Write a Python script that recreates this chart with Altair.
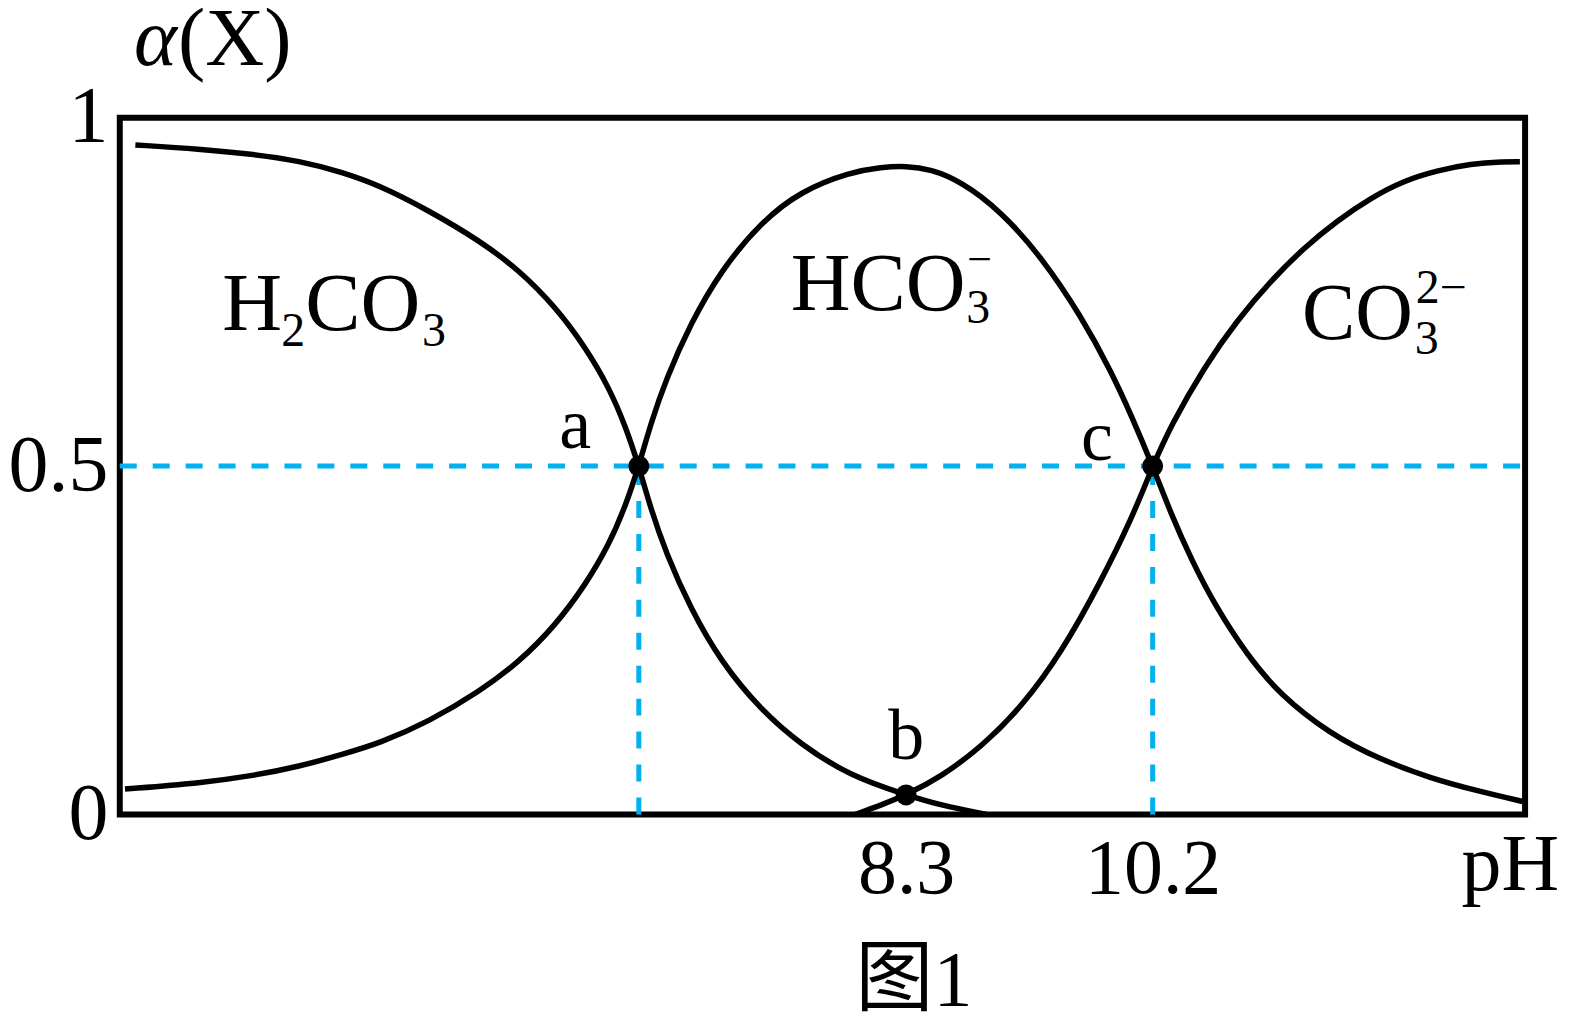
import altair as alt
import pandas as pd

SERIF = "Liberation Serif"

# ---- curve data (pH, fraction alpha) ----
ph_h2co3 = [2.36, 2.86, 3.25, 3.63, 3.95, 4.24, 4.62, 5.01, 5.32, 5.60, 5.83, 6.01, 6.14, 6.24,
            6.33, 6.45, 6.64, 6.87, 7.18, 7.49, 7.87, 8.30, 8.57, 8.92]
al_h2co3 = [0.961, 0.955, 0.948, 0.938, 0.922, 0.903, 0.867, 0.824, 0.781, 0.728, 0.670, 0.613,
            0.556, 0.500, 0.440, 0.375, 0.295, 0.220, 0.150, 0.100, 0.055, 0.028, 0.013, 0.0]

ph_hco3 = [2.28, 2.86, 3.25, 3.63, 3.95, 4.24, 4.62, 5.01, 5.32, 5.60, 5.83, 6.01, 6.14, 6.24,
           6.33, 6.45, 6.64, 6.87, 7.18, 7.49, 7.87, 8.11, 8.30, 8.49, 8.72, 9.03, 9.34, 9.65,
           9.88, 10.04, 10.20, 10.34, 10.50, 10.68, 10.93, 11.18, 11.57, 11.95, 12.34, 12.72, 13.05]
al_hco3 = [0.0365, 0.045, 0.055, 0.069, 0.086, 0.102, 0.133, 0.176, 0.219, 0.272, 0.330, 0.387,
           0.444, 0.500, 0.560, 0.625, 0.705, 0.780, 0.850, 0.895, 0.922, 0.929, 0.931, 0.926,
           0.909, 0.866, 0.801, 0.715, 0.636, 0.571, 0.500, 0.432, 0.365, 0.300, 0.228, 0.172,
           0.115, 0.079, 0.052, 0.033, 0.0186]

ph_co3 = [7.91, 8.11, 8.30, 8.57, 8.88, 9.19, 9.50, 9.80, 10.04, 10.20, 10.34, 10.60, 10.85,
          11.11, 11.37, 11.62, 11.88, 12.14, 12.39, 12.65, 12.91, 13.03]
al_co3 = [0.0, 0.0135, 0.028, 0.054, 0.097, 0.154, 0.233, 0.334, 0.425, 0.500, 0.558, 0.643,
          0.709, 0.766, 0.814, 0.852, 0.885, 0.910, 0.924, 0.934, 0.937, 0.937]

# marked points a, b, c
pt_names = ["a", "b", "c"]
pt_ph = [6.24, 8.30, 10.20]
pt_alpha = [0.5, 0.028, 0.5]

# axis ticks
x_ticks = [8.3, 10.2]
y_ticks = [0, 0.5, 1]
x_domain = [2.24, 13.07]
y_domain = [0, 1]

rows = []
for sp, xs, ys in [("H2CO3", ph_h2co3, al_h2co3), ("HCO3", ph_hco3, al_hco3), ("CO3", ph_co3, al_co3)]:
    for i, (x, y) in enumerate(zip(xs, ys)):
        rows.append({"species": sp, "pH": x, "alpha": y, "order": i})
curves = pd.DataFrame(rows)

xscale = alt.Scale(domain=x_domain, nice=False, zero=False)
yscale = alt.Scale(domain=y_domain, nice=False, zero=False)

x_axis = alt.Axis(values=x_ticks, title=None, ticks=False, domain=False, grid=False,
                  labelFont=SERIF, labelFontSize=78, labelColor="black", labelPadding=16,
                  labelFlush=False, format=".1f")
y_axis = alt.Axis(values=y_ticks, title=None, ticks=False, domain=False, grid=False,
                  labelFont=SERIF, labelFontSize=80, labelColor="black", labelPadding=12,
                  labelFlush=False, format="~g")


def X(field="pH"):
    return alt.X(f"{field}:Q", scale=xscale, axis=x_axis)


def Y(field="alpha"):
    return alt.Y(f"{field}:Q", scale=yscale, axis=y_axis)


lines = alt.Chart(curves).mark_line(interpolate="basis", color="black", strokeWidth=5.5).encode(
    x=X(), y=Y(), detail="species:N", order="order:Q")

# dashed guides
guides = pd.DataFrame({
    "pH": [x_domain[0], pt_ph[0], pt_ph[2]],
    "pH2": [x_domain[1], pt_ph[0], pt_ph[2]],
    "alpha": [0.5, 0.0, 0.0],
    "alpha2": [0.5, 0.5, 0.5],
})
dashes = alt.Chart(guides).mark_rule(color="#00B0F0", strokeWidth=5, strokeDash=[17, 16]).encode(
    x=X(), x2="pH2:Q", y=Y(), y2="alpha2:Q")

pts = pd.DataFrame({"name": pt_names, "pH": pt_ph, "alpha": pt_alpha})
dots = alt.Chart(pts).mark_circle(size=440, color="black", opacity=1).encode(x=X(), y=Y())


def txt(t, ph, alpha, size, dx=0, dy=0, align="left", italic=False, font=SERIF):
    df = pd.DataFrame({"t": [t], "pH": [ph], "alpha": [alpha]})
    return alt.Chart(df).mark_text(align=align, baseline="alphabetic", dx=dx, dy=dy, fontSize=size,
                                   font=font, fontStyle="italic" if italic else "normal",
                                   color="black").encode(x=X(), y=Y(), text="t:N")


texts = [
    # point labels
    txt("a", 5.75, 0.526, 72, align="center"),
    txt("b", 8.30, 0.080, 72, align="center"),
    txt("c", 9.77, 0.509, 72, align="center"),
    # H2CO3
    txt("H", 3.03, 0.695, 83),
    txt("2", 3.03, 0.695, 48, dx=59, dy=16),
    txt("CO", 3.03, 0.695, 83, dx=83),
    txt("3", 3.03, 0.695, 48, dx=200, dy=16),
    # HCO3-
    txt("HCO", 7.41, 0.7235, 83),
    txt("3", 7.41, 0.7235, 48, dx=176, dy=13),
    txt("\u2212", 7.41, 0.7235, 44, dx=177, dy=-36),
    # CO3 2-
    txt("CO", 11.35, 0.683, 80),
    txt("3", 11.35, 0.683, 48, dx=113, dy=15),
    txt("2\u2212", 11.35, 0.683, 48, dx=114, dy=-36),
    # axis titles
    txt("\u03b1", 2.35, 1.076, 82, italic=True),
    txt("(X)", 2.35, 1.076, 82, dx=44),
    txt("pH", 12.58, -0.109, 80),
    txt("图1", 8.36, -0.274, 78, align="center", font="Liberation Serif, Noto Sans CJK SC"),
]

chart = alt.layer(dashes, lines, dots, *texts).properties(
    width=1408, height=698,
    autosize=alt.AutoSizeParams(type="none"),
    padding={"left": 112, "top": 109, "right": 40, "bottom": 202},
).configure_view(stroke="black", strokeWidth=6)

chart.save("out.html", embed_options={"renderer": "svg", "actions": False})
